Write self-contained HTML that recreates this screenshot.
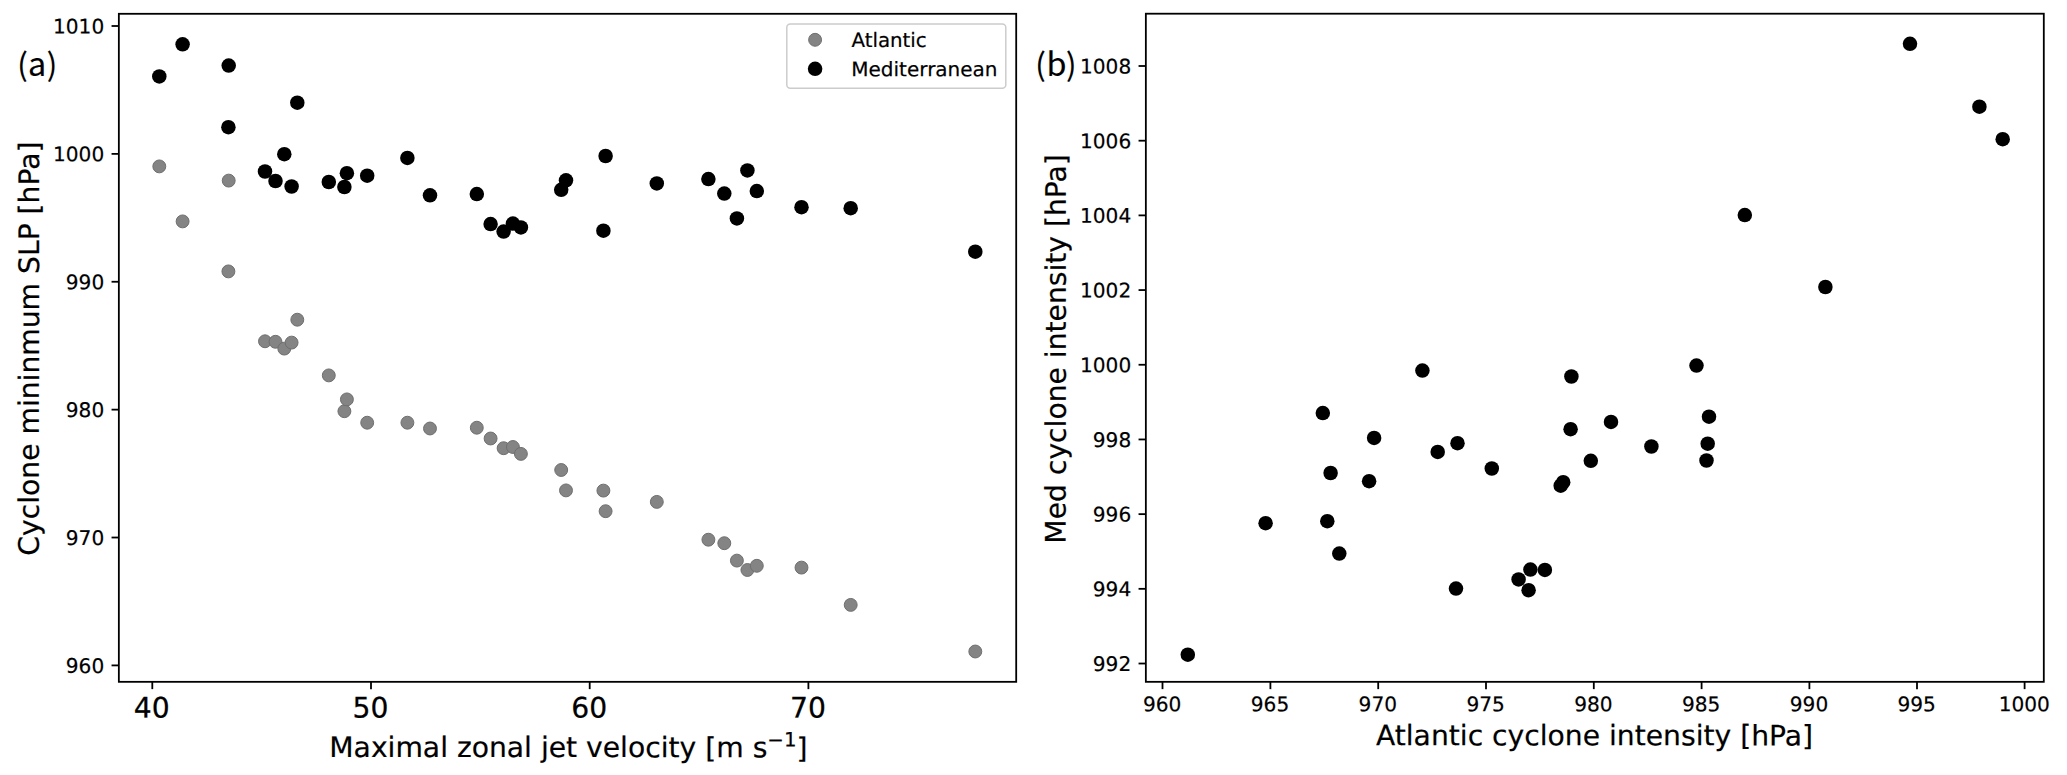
<!DOCTYPE html>
<html lang="en"><head><meta charset="utf-8"><title>Cyclone intensity vs jet velocity</title>
<style>html,body{margin:0;padding:0;background:#fff;}body{width:2067px;height:775px;overflow:hidden;}svg{display:block;}text{font-family:"DejaVu Sans", "Liberation Sans", sans-serif;fill:#000;stroke:#000;stroke-width:0.2px;}.t{font-size:20.1px;}.tb{font-size:28.2px;stroke-width:0.25px;}.l{font-size:28.2px;stroke-width:0.2px;}.pl{font-family:"Noto Sans CJK SC","Liberation Sans",sans-serif;font-size:32.3px;stroke-width:0.15px;}</style></head><body>
<svg width="2067" height="775" viewBox="0 0 2067 775">
<rect x="0" y="0" width="2067" height="775" fill="#fff"/>
<g id="left">
<g fill="#848484" stroke="#6f6f6f" stroke-width="1">
<circle cx="159.3" cy="166.4" r="6.45"/>
<circle cx="182.6" cy="221.4" r="6.45"/>
<circle cx="228.7" cy="180.6" r="6.45"/>
<circle cx="228.4" cy="271.4" r="6.45"/>
<circle cx="265.0" cy="341.3" r="6.45"/>
<circle cx="275.5" cy="341.8" r="6.45"/>
<circle cx="284.3" cy="348.6" r="6.45"/>
<circle cx="291.6" cy="342.6" r="6.45"/>
<circle cx="297.3" cy="319.7" r="6.45"/>
<circle cx="328.8" cy="375.4" r="6.45"/>
<circle cx="344.4" cy="411.2" r="6.45"/>
<circle cx="346.9" cy="399.4" r="6.45"/>
<circle cx="367.2" cy="422.7" r="6.45"/>
<circle cx="407.4" cy="422.7" r="6.45"/>
<circle cx="430.0" cy="428.5" r="6.45"/>
<circle cx="476.8" cy="427.7" r="6.45"/>
<circle cx="490.6" cy="438.5" r="6.45"/>
<circle cx="503.6" cy="448.2" r="6.45"/>
<circle cx="512.9" cy="447.0" r="6.45"/>
<circle cx="520.9" cy="453.9" r="6.45"/>
<circle cx="561.2" cy="470.0" r="6.45"/>
<circle cx="566.0" cy="490.4" r="6.45"/>
<circle cx="603.4" cy="490.6" r="6.45"/>
<circle cx="605.6" cy="511.2" r="6.45"/>
<circle cx="656.8" cy="501.9" r="6.45"/>
<circle cx="708.4" cy="539.7" r="6.45"/>
<circle cx="724.3" cy="543.2" r="6.45"/>
<circle cx="736.9" cy="560.6" r="6.45"/>
<circle cx="747.4" cy="570.0" r="6.45"/>
<circle cx="756.8" cy="565.8" r="6.45"/>
<circle cx="801.5" cy="567.6" r="6.45"/>
<circle cx="850.7" cy="604.9" r="6.45"/>
<circle cx="975.3" cy="651.5" r="6.45"/>
</g><g fill="#000">
<circle cx="159.3" cy="76.4" r="7.25"/>
<circle cx="182.6" cy="44.3" r="7.25"/>
<circle cx="228.7" cy="65.6" r="7.25"/>
<circle cx="228.4" cy="127.2" r="7.25"/>
<circle cx="265.0" cy="171.5" r="7.25"/>
<circle cx="275.5" cy="181.0" r="7.25"/>
<circle cx="284.3" cy="154.2" r="7.25"/>
<circle cx="291.6" cy="186.5" r="7.25"/>
<circle cx="297.3" cy="102.7" r="7.25"/>
<circle cx="328.8" cy="182.0" r="7.25"/>
<circle cx="344.4" cy="187.0" r="7.25"/>
<circle cx="346.9" cy="173.2" r="7.25"/>
<circle cx="367.2" cy="175.7" r="7.25"/>
<circle cx="407.4" cy="157.9" r="7.25"/>
<circle cx="430.0" cy="195.3" r="7.25"/>
<circle cx="476.8" cy="194.1" r="7.25"/>
<circle cx="490.6" cy="224.1" r="7.25"/>
<circle cx="503.6" cy="231.6" r="7.25"/>
<circle cx="512.9" cy="223.6" r="7.25"/>
<circle cx="520.9" cy="227.4" r="7.25"/>
<circle cx="561.2" cy="189.8" r="7.25"/>
<circle cx="566.0" cy="180.3" r="7.25"/>
<circle cx="603.4" cy="230.7" r="7.25"/>
<circle cx="605.6" cy="156.0" r="7.25"/>
<circle cx="656.8" cy="183.4" r="7.25"/>
<circle cx="708.4" cy="179.1" r="7.25"/>
<circle cx="724.3" cy="193.6" r="7.25"/>
<circle cx="736.9" cy="218.4" r="7.25"/>
<circle cx="747.4" cy="170.4" r="7.25"/>
<circle cx="756.8" cy="191.1" r="7.25"/>
<circle cx="801.5" cy="207.2" r="7.25"/>
<circle cx="850.7" cy="208.2" r="7.25"/>
<circle cx="975.3" cy="251.7" r="7.25"/>
</g>
<g stroke="#000" stroke-width="1.8">
<line x1="111.55" y1="26.0" x2="118.85" y2="26.0"/>
<line x1="111.55" y1="153.88" x2="118.85" y2="153.88"/>
<line x1="111.55" y1="281.76" x2="118.85" y2="281.76"/>
<line x1="111.55" y1="409.64" x2="118.85" y2="409.64"/>
<line x1="111.55" y1="537.52" x2="118.85" y2="537.52"/>
<line x1="111.55" y1="665.4" x2="118.85" y2="665.4"/>
<line x1="152.3" y1="681.83" x2="152.3" y2="689.13"/>
<line x1="371.0" y1="681.83" x2="371.0" y2="689.13"/>
<line x1="589.7" y1="681.83" x2="589.7" y2="689.13"/>
<line x1="808.4" y1="681.83" x2="808.4" y2="689.13"/>
</g>
<text class="t" x="104.20" y="33.50" text-anchor="end" transform="rotate(0.03 104.20 33.50)">1010</text>
<text class="t" x="104.20" y="161.38" text-anchor="end" transform="rotate(0.03 104.20 161.38)">1000</text>
<text class="t" x="104.20" y="289.26" text-anchor="end" transform="rotate(0.03 104.20 289.26)">990</text>
<text class="t" x="104.20" y="417.14" text-anchor="end" transform="rotate(0.03 104.20 417.14)">980</text>
<text class="t" x="104.20" y="545.02" text-anchor="end" transform="rotate(0.03 104.20 545.02)">970</text>
<text class="t" x="104.20" y="672.90" text-anchor="end" transform="rotate(0.03 104.20 672.90)">960</text>
<text class="tb" x="151.80" y="717.60" text-anchor="middle" transform="rotate(0.03 151.80 717.60)">40</text>
<text class="tb" x="370.50" y="717.60" text-anchor="middle" transform="rotate(0.03 370.50 717.60)">50</text>
<text class="tb" x="589.20" y="717.60" text-anchor="middle" transform="rotate(0.03 589.20 717.60)">60</text>
<text class="tb" x="807.90" y="717.60" text-anchor="middle" transform="rotate(0.03 807.90 717.60)">70</text>
<rect x="118.85" y="13.8" width="897.35" height="668.03" fill="none" stroke="#000" stroke-width="1.8"/>
<text class="l" x="568.40" y="757.10" text-anchor="middle" transform="rotate(0.03 568.40 757.10)">Maximal zonal jet velocity <tspan dy="0.7">[</tspan><tspan dy="-0.7">m s</tspan><tspan font-size="19.8" dy="-10.6">−1</tspan><tspan dy="11.3">]</tspan></text>
<text class="l" transform="translate(38.90 348.60) rotate(-89.97)" text-anchor="middle">Cyclone mininmum SLP [hPa]</text>
<text class="pl" y="75.6"><tspan x="17.2" font-size="31.0">(</tspan><tspan x="27.9">a</tspan><tspan x="46.8" font-size="31.0">)</tspan></text>
<rect x="786.8" y="23.9" width="219" height="64.4" rx="3.5" ry="3.5" fill="#fff" fill-opacity="0.8" stroke="#cccccc" stroke-width="1.5"/>
<circle cx="815.1" cy="39.8" r="6.45" fill="#848484" stroke="#6f6f6f" stroke-width="1"/><circle cx="815.1" cy="68.8" r="7.25" fill="#000"/>
<text class="t" x="851.50" y="47.00" transform="rotate(0.03 851.50 47.00)" style="font-size:19.8px">Atlantic</text>
<text class="t" x="851.30" y="76.15" transform="rotate(0.03 851.30 76.15)" style="font-size:20.0px">Mediterranean</text>
</g>
<g id="right">
<g fill="#000">
<circle cx="1187.8" cy="654.7" r="7.25"/>
<circle cx="1265.6" cy="523.2" r="7.25"/>
<circle cx="1327.3" cy="521.2" r="7.25"/>
<circle cx="1339.3" cy="553.6" r="7.25"/>
<circle cx="1322.8" cy="413.1" r="7.25"/>
<circle cx="1330.6" cy="473.0" r="7.25"/>
<circle cx="1369.1" cy="481.2" r="7.25"/>
<circle cx="1374.1" cy="437.9" r="7.25"/>
<circle cx="1422.4" cy="370.6" r="7.25"/>
<circle cx="1437.7" cy="451.9" r="7.25"/>
<circle cx="1457.5" cy="443.2" r="7.25"/>
<circle cx="1456.0" cy="588.6" r="7.25"/>
<circle cx="1491.8" cy="468.5" r="7.25"/>
<circle cx="1518.6" cy="579.4" r="7.25"/>
<circle cx="1530.4" cy="569.6" r="7.25"/>
<circle cx="1528.6" cy="590.2" r="7.25"/>
<circle cx="1544.9" cy="569.9" r="7.25"/>
<circle cx="1560.7" cy="485.7" r="7.25"/>
<circle cx="1563.2" cy="482.2" r="7.25"/>
<circle cx="1571.4" cy="376.5" r="7.25"/>
<circle cx="1570.6" cy="429.2" r="7.25"/>
<circle cx="1590.8" cy="460.8" r="7.25"/>
<circle cx="1611.0" cy="421.9" r="7.25"/>
<circle cx="1651.4" cy="446.5" r="7.25"/>
<circle cx="1696.5" cy="365.6" r="7.25"/>
<circle cx="1709.0" cy="416.7" r="7.25"/>
<circle cx="1707.7" cy="443.7" r="7.25"/>
<circle cx="1706.5" cy="460.5" r="7.25"/>
<circle cx="1744.8" cy="215.1" r="7.25"/>
<circle cx="1825.4" cy="287.0" r="7.25"/>
<circle cx="1910.0" cy="43.8" r="7.25"/>
<circle cx="1979.4" cy="106.7" r="7.25"/>
<circle cx="2002.7" cy="139.2" r="7.25"/>
</g>
<g stroke="#000" stroke-width="1.8">
<line x1="1138.55" y1="66.0" x2="1145.85" y2="66.0"/>
<line x1="1138.55" y1="140.69" x2="1145.85" y2="140.69"/>
<line x1="1138.55" y1="215.38" x2="1145.85" y2="215.38"/>
<line x1="1138.55" y1="290.07" x2="1145.85" y2="290.07"/>
<line x1="1138.55" y1="364.76" x2="1145.85" y2="364.76"/>
<line x1="1138.55" y1="439.45" x2="1145.85" y2="439.45"/>
<line x1="1138.55" y1="514.14" x2="1145.85" y2="514.14"/>
<line x1="1138.55" y1="588.83" x2="1145.85" y2="588.83"/>
<line x1="1138.55" y1="663.52" x2="1145.85" y2="663.52"/>
<line x1="1162.5" y1="681.83" x2="1162.5" y2="689.13"/>
<line x1="1270.4" y1="681.83" x2="1270.4" y2="689.13"/>
<line x1="1378.2" y1="681.83" x2="1378.2" y2="689.13"/>
<line x1="1486.0" y1="681.83" x2="1486.0" y2="689.13"/>
<line x1="1593.8" y1="681.83" x2="1593.8" y2="689.13"/>
<line x1="1701.6" y1="681.83" x2="1701.6" y2="689.13"/>
<line x1="1809.4" y1="681.83" x2="1809.4" y2="689.13"/>
<line x1="1917.0" y1="681.83" x2="1917.0" y2="689.13"/>
<line x1="2024.6" y1="681.83" x2="2024.6" y2="689.13"/>
</g>
<text class="t" x="1131.20" y="73.50" text-anchor="end" transform="rotate(0.03 1131.20 73.50)">1008</text>
<text class="t" x="1131.20" y="148.19" text-anchor="end" transform="rotate(0.03 1131.20 148.19)">1006</text>
<text class="t" x="1131.20" y="222.88" text-anchor="end" transform="rotate(0.03 1131.20 222.88)">1004</text>
<text class="t" x="1131.20" y="297.57" text-anchor="end" transform="rotate(0.03 1131.20 297.57)">1002</text>
<text class="t" x="1131.20" y="372.26" text-anchor="end" transform="rotate(0.03 1131.20 372.26)">1000</text>
<text class="t" x="1131.20" y="446.95" text-anchor="end" transform="rotate(0.03 1131.20 446.95)">998</text>
<text class="t" x="1131.20" y="521.64" text-anchor="end" transform="rotate(0.03 1131.20 521.64)">996</text>
<text class="t" x="1131.20" y="596.33" text-anchor="end" transform="rotate(0.03 1131.20 596.33)">994</text>
<text class="t" x="1131.20" y="671.02" text-anchor="end" transform="rotate(0.03 1131.20 671.02)">992</text>
<text class="t" x="1162.10" y="711.35" text-anchor="middle" transform="rotate(0.03 1162.10 711.35)">960</text>
<text class="t" x="1270.00" y="711.35" text-anchor="middle" transform="rotate(0.03 1270.00 711.35)">965</text>
<text class="t" x="1377.80" y="711.35" text-anchor="middle" transform="rotate(0.03 1377.80 711.35)">970</text>
<text class="t" x="1485.60" y="711.35" text-anchor="middle" transform="rotate(0.03 1485.60 711.35)">975</text>
<text class="t" x="1593.40" y="711.35" text-anchor="middle" transform="rotate(0.03 1593.40 711.35)">980</text>
<text class="t" x="1701.20" y="711.35" text-anchor="middle" transform="rotate(0.03 1701.20 711.35)">985</text>
<text class="t" x="1809.00" y="711.35" text-anchor="middle" transform="rotate(0.03 1809.00 711.35)">990</text>
<text class="t" x="1916.60" y="711.35" text-anchor="middle" transform="rotate(0.03 1916.60 711.35)">995</text>
<text class="t" x="2024.20" y="711.35" text-anchor="middle" transform="rotate(0.03 2024.20 711.35)">1000</text>
<rect x="1145.85" y="13.7" width="897.95" height="668.13" fill="none" stroke="#000" stroke-width="1.8"/>
<text class="l" x="1594.50" y="745.30" text-anchor="middle" transform="rotate(0.03 1594.50 745.30)">Atlantic cyclone intensity [hPa]</text>
<text class="l" transform="translate(1065.70 348.90) rotate(-89.97)" text-anchor="middle">Med cyclone intensity [hPa]</text>
<text class="pl" y="75.6"><tspan x="1035.2" font-size="31.0">(</tspan><tspan x="1046.4">b</tspan><tspan x="1066.0" font-size="31.0">)</tspan></text>
</g>
</svg></body></html>
